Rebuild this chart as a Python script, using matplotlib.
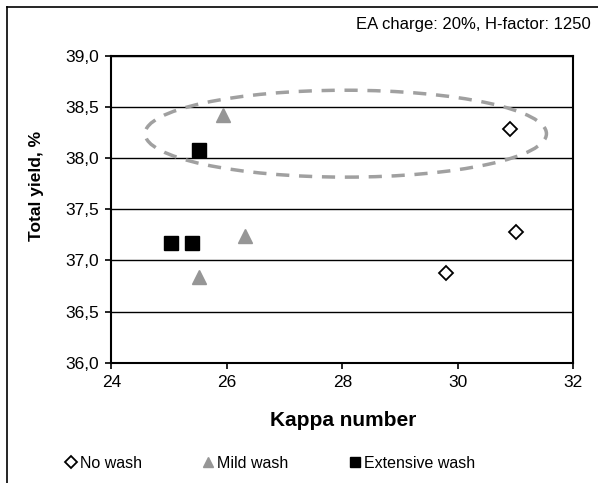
import matplotlib
matplotlib.use("Agg")
import matplotlib.pyplot as plt
from matplotlib.patches import Ellipse
from matplotlib.lines import Line2D

plt.rcParams['font.family'] = ['Liberation Sans', 'DejaVu Sans']

# data
no_wash_kappa = [30.9, 31.0, 29.8]
no_wash_yield = [38.29, 37.28, 36.88]
mild_wash_kappa = [25.93, 26.32, 25.52]
mild_wash_yield = [38.42, 37.24, 36.84]
ext_wash_kappa = [25.52, 25.03, 25.39]
ext_wash_yield = [38.08, 37.17, 37.17]

x_ticks = [24, 26, 28, 30, 32]
y_ticks = [36.0, 36.5, 37.0, 37.5, 38.0, 38.5, 39.0]
y_tick_labels = ['36,0', '36,5', '37,0', '37,5', '38,0', '38,5', '39,0']

# grouping ellipse (center, width, height in data units)
ell_center = (28.06, 38.24)
ell_width = 6.95
ell_height = 0.85

fig = plt.figure(figsize=(5.98, 4.83), dpi=100)
ax = fig.add_axes([0.1861, 0.2491, 0.9587 - 0.1861, 0.8841 - 0.2491])

ax.set_xlim(24, 32)
ax.set_ylim(36, 39)
ax.set_xticks(x_ticks)
ax.set_yticks(y_ticks)
ax.set_yticklabels(y_tick_labels)
ax.yaxis.grid(True, color='black', linewidth=1.0)
ax.set_axisbelow(True)
for s in ax.spines.values():
    s.set_linewidth(1.5)
ax.tick_params(direction='out', length=4, width=1.2, labelsize=12.5, pad=5)

ax.plot(no_wash_kappa, no_wash_yield, linestyle='none', marker='D', ms=7.5,
        mfc='white', mec='black', mew=1.3, label='No wash', zorder=3)
ax.plot(mild_wash_kappa, mild_wash_yield, linestyle='none', marker='^', ms=10.5,
        mfc='#969696', mec='#969696', label='Mild wash', zorder=3)
ax.plot(ext_wash_kappa, ext_wash_yield, linestyle='none', marker='s', ms=9.5,
        mfc='black', mec='black', label='Extensive wash', zorder=3)

ell = Ellipse(ell_center, ell_width, ell_height, fill=False, edgecolor='#a0a0a0',
              linewidth=2.5, linestyle=(0, (3.8, 2.8)), zorder=2)
ax.add_patch(ell)

ax.set_xlabel('Kappa number', fontsize=15, fontweight='bold')
ax.xaxis.set_label_coords(343 / 598, 1 - 420 / 483, transform=fig.transFigure)
ax.set_ylabel('Total yield, %', fontsize=12.5, fontweight='bold')
ax.yaxis.set_label_coords(36 / 598, 1 - 186 / 483, transform=fig.transFigure)
ax.xaxis.label.set_va('center')
ax.yaxis.label.set_va('center')

fig.text(591 / 598, 1 - 24 / 483, 'EA charge: 20%, H-factor: 1250',
         ha='right', va='center', fontsize=12)

fig.legend(loc='center left', bbox_to_anchor=(56.6 / 598, 20 / 483),
           ncol=3, frameon=False, fontsize=11.5, borderpad=0,
           handlelength=0.8, handletextpad=0.16, columnspacing=3.75,
           markerscale=0.75)

# outer chart border (left and top edges visible)
fig.add_artist(Line2D([6.7 / 598, 6.7 / 598], [0, 1 - 6.7 / 483],
                      transform=fig.transFigure, color='black', linewidth=1.2))
fig.add_artist(Line2D([6.7 / 598, 1], [1 - 6.7 / 483, 1 - 6.7 / 483],
                      transform=fig.transFigure, color='black', linewidth=1.2))

fig.savefig('out.png', dpi=100)
